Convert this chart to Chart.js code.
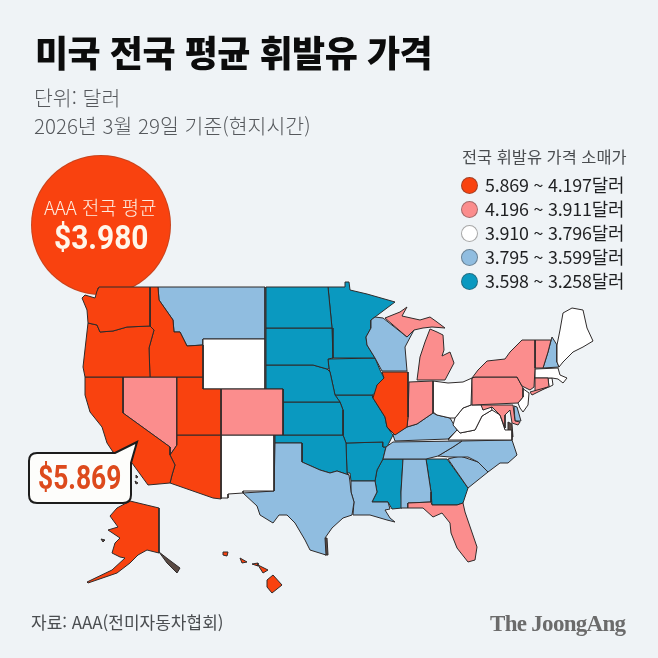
<!DOCTYPE html>
<html lang="ko">
<head>
<meta charset="utf-8">
<title>미국 전국 평균 휘발유 가격</title>
<script src="https://cdn.jsdelivr.net/npm/chart.js@4"></script>
<style>
  html, body { margin: 0; padding: 0; background: #eff3f6; }
  #page { position: relative; width: 658px; height: 658px; overflow: hidden; font-family: "Noto Sans CJK KR", sans-serif; }
  #map { position: absolute; left: 0; top: 0; }
  .txt { position: absolute; white-space: nowrap; line-height: 1; }
  .num { font-family: Roboto, sans-serif; font-weight: 700; transform-origin: left center; }
  #bubble { position: absolute; left: 32px; top: 156px; width: 138px; height: 138px; border-radius: 50%; background: #f9420f; box-shadow: 0 0 0 1px #c9431c; }
  #callout { position: absolute; left: 0; top: 0; }
  .dot { position: absolute; width: 15px; height: 15px; border-radius: 50%; border: 1px solid rgba(60, 60, 60, .45); }
</style>
</head>
<body>
<div id="page">
  <div id="bubble"></div>
  <canvas id="map" width="658" height="658"></canvas>
  <svg id="callout" width="658" height="658"><path d="M37 453 H115 L137 442 L131 463 V495 Q131 503 123 503 H37 Q29 503 29 495 V461 Q29 453 37 453 Z" fill="#fdfdfb" stroke="#1c1c1c" stroke-width="2"/></svg>
  <div class="txt" style="left:35px;top:33px;font-size:36px;font-weight:900;color:#0c0c0c;letter-spacing:-.5px">미국 전국 평균 휘발유 가격</div>
  <div class="txt" style="left:34px;top:87px;font-size:20.5px;font-weight:300;color:#55585c">단위: 달러</div>
  <div class="txt" style="left:34px;top:115px;font-size:20.5px;font-weight:300;color:#55585c">2026년 3월 29일 기준(현지시간)</div>
  <div class="txt" style="left:44px;top:198px;font-size:18.8px;font-weight:300;color:#fdeee2">AAA 전국 평균</div>
  <div class="txt num" style="left:54px;top:220px;font-size:34px;color:#fff6ea;transform:scaleX(.88)">$3.980</div>
  <div class="txt num" style="left:38px;top:461px;font-size:33px;color:#dd4a1c;transform:scaleX(.8)">$5.869</div>
  <div class="txt" style="left:31px;top:613px;font-size:17px;font-weight:400;color:#4a4d50">자료: AAA(전미자동차협회)</div>
  <div class="txt" style="left:490px;top:612px;font-size:23px;font-weight:700;color:#6b6b6b;font-family:'Liberation Serif',serif;letter-spacing:-.7px">The JoongAng</div>
  <div class="txt" style="left:462px;top:148px;font-size:16.4px;font-weight:400;color:#4a4d50">전국 휘발유 가격 소매가</div>
  <div id="legend"></div>
</div>
<script>
// price bins, from the legend
const legendLabels = ['5.869 ~ 4.197달러', '4.196 ~ 3.911달러', '3.910 ~ 3.796달러', '3.795 ~ 3.599달러', '3.598 ~ 3.258달러'];
const binColors = ['#f9420f', '#fb8d8d', '#ffffff', '#90bde0', '#0a99c0'];
const bin1 = ['WA', 'OR', 'CA', 'ID', 'UT', 'AZ', 'IL', 'AK', 'HI1', 'HI2', 'HI3', 'HI4', 'HI5'];
const bin2 = ['NV', 'CO', 'MI1', 'MI2', 'IN', 'NY', 'LI', 'PA', 'MD', 'VT', 'CT', 'FL'];
const bin3 = ['WY', 'NM', 'OH', 'WV', 'VA', 'NJ', 'MA', 'RI', 'ME'];
const bin4 = ['MT', 'TX', 'LA', 'WI', 'KY', 'TN', 'NC', 'SC', 'AL', 'NH', 'DE'];
const bin5 = ['ND', 'SD', 'NE', 'KS', 'OK', 'MN', 'IA', 'MO', 'AR', 'MS', 'GA'];

// state outlines in map units
const WA = [[99,287],[150,287],[150,326],[127,327],[113,331],[100,332],[97,325],[88,323],[87,310],[82,298],[85,295],[95,298],[97,291]];
const OR = [[88,323],[97,325],[100,332],[113,331],[127,327],[150,326],[154,330],[149,348],[150,377],[85,377],[83,367]];
const ID = [[150,287],[158,287],[159,300],[173,320],[174,332],[180,332],[187,346],[203,345],[203,377],[150,377],[149,348],[154,330],[150,326]];
const MT = [[158,287],[265,287],[265,339],[203,339],[203,345],[187,346],[180,332],[174,332],[173,320],[159,300]];
const WY = [[203,339],[265,339],[265,389],[203,389]];
const CA = [[85,377],[123,377],[123,413],[170,447],[170,455],[175,465],[172,475],[170,483],[148,485],[132,463],[113,452],[107,443],[102,427],[90,412],[85,395]];
const NV = [[123,377],[177,377],[177,445],[170,455],[170,447],[123,413]];
const UT = [[177,377],[203,377],[203,389],[221,389],[221,435],[177,435]];
const AZ = [[177,435],[221,435],[221,499],[213,498],[170,483],[172,475],[175,465],[170,455],[177,445]];
const CO = [[221,389],[283,389],[283,435],[221,435]];
const NM = [[221,435],[274,435],[274,491],[243,491],[243,493],[228,494],[228,498],[221,498]];
const TX = [[275,443],[302,443],[302,462],[320,470],[330,473],[337,471],[349,475],[350,482],[351,492],[354,502],[352,515],[343,518],[332,528],[325,538],[326,555],[310,550],[305,540],[295,523],[287,515],[279,515],[273,523],[260,515],[257,506],[243,493],[274,491]];
const OK = [[275,435],[343,435],[346,443],[347,473],[349,475],[337,471],[330,473],[320,470],[302,462],[302,443],[275,443]];
const KS = [[283,402],[340,402],[343,410],[343,435],[283,435]];
const NE = [[266,365],[313,365],[327,369],[330,372],[335,395],[340,402],[283,402],[283,389],[266,389]];
const SD = [[266,328],[332,328],[333,358],[328,359],[329,369],[327,369],[313,365],[266,365]];
const ND = [[266,287],[328,287],[332,328],[266,328]];
const MN = [[328,287],[345,287],[345,282],[349,282],[350,290],[367,294],[395,302],[375,317],[371,320],[371,328],[366,337],[367,345],[375,358],[333,358],[332,328]];
const IA = [[328,359],[375,358],[380,370],[384,378],[377,385],[378,392],[372,395],[335,395],[330,372],[329,369]];
const MO = [[335,395],[372,395],[373,398],[385,417],[387,427],[393,435],[387,447],[383,447],[383,442],[346,443],[343,435],[343,410],[340,402]];
const AR = [[346,443],[383,442],[383,447],[386,447],[383,459],[377,470],[375,481],[351,481],[350,473],[347,473]];
const LA = [[351,481],[375,481],[377,492],[372,502],[388,502],[390,509],[385,510],[390,518],[395,522],[387,520],[370,515],[353,515],[354,502],[351,492]];
const MS = [[383,459],[403,459],[401,492],[402,508],[392,509],[388,502],[372,502],[377,492],[375,481],[377,470]];
const TN = [[393,442],[462,441],[453,447],[438,456],[426,459],[383,459],[386,447]];
const KY = [[393,435],[407,427],[417,424],[433,413],[437,415],[450,418],[457,430],[448,439],[395,441]];
const IL = [[382,372],[408,372],[408,417],[407,427],[395,435],[387,427],[385,417],[373,398],[377,385],[384,378]];
const IN = [[409,382],[433,381],[433,413],[417,424],[407,427],[408,417]];
const WI = [[371,320],[375,317],[383,318],[407,337],[414,330],[405,347],[407,371],[382,371],[375,358],[367,345],[366,337],[371,328]];
const MI1 = [[385,318],[400,312],[407,307],[402,316],[420,320],[430,317],[437,322],[445,328],[432,327],[423,328],[414,330],[407,337]];
const MI2 = [[417,380],[420,357],[425,342],[430,329],[437,332],[443,335],[444,350],[442,356],[450,352],[454,363],[445,380]];
const OH = [[433,381],[448,383],[463,382],[472,378],[471,405],[463,408],[455,418],[450,418],[437,415],[433,412]];
const WV = [[471,405],[482,405],[483,410],[491,405],[492,410],[482,416],[475,430],[460,433],[453,425],[455,418],[463,408]];
const VA = [[448,440],[457,430],[460,433],[475,430],[482,416],[492,410],[500,415],[505,430],[512,430],[512,440]];
const MD = [[481,405],[513,405],[515,421],[520,422],[518,425],[512,423],[510,410],[505,415],[505,428],[500,415],[492,407],[483,410]];
const DE = [[514,406],[517,407],[521,421],[515,421]];
const PA = [[472,378],[475,377],[517,377],[523,388],[523,397],[518,403],[472,405]];
const NJ = [[522,388],[529,393],[528,405],[523,412],[520,408],[518,403],[523,397]];
const NY = [[472,378],[478,370],[487,361],[505,359],[510,352],[522,340],[535,340],[535,368],[534,387],[530,390],[522,386],[517,377],[475,377]];
const LI = [[530,392],[548,387],[532,395]];
const VT = [[535,340],[551,340],[548,352],[543,368],[535,368]];
const NH = [[552,337],[557,345],[557,362],[559,367],[543,368],[548,352]];
const ME = [[557,345],[560,330],[563,313],[572,308],[583,310],[587,328],[593,341],[583,347],[573,352],[563,362],[559,367],[557,362]];
const MA = [[535,369],[558,368],[560,375],[567,378],[563,383],[558,379],[552,378],[535,378]];
const CT = [[535,378],[548,378],[549,387],[535,392]];
const RI = [[548,378],[552,378],[553,385],[549,387]];
const NC = [[462,441],[512,440],[517,455],[508,463],[500,463],[488,472],[478,462],[468,457],[450,457],[438,456],[453,447]];
const SC = [[448,459],[460,456],[478,462],[488,472],[468,488]];
const GA = [[426,459],[447,459],[468,488],[463,503],[457,505],[432,505],[431,492]];
const AL = [[403,459],[426,459],[431,492],[431,502],[408,503],[408,508],[402,508],[401,492]];
const FL = [[408,503],[431,502],[432,505],[457,505],[463,503],[465,512],[477,547],[475,560],[468,562],[457,548],[451,533],[450,523],[442,513],[433,517],[423,508],[408,508]];
const AK = [[130,501],[159,508],[159,553],[147,550],[138,555],[130,563],[117,573],[88,583],[87,582],[112,570],[125,558],[120,557],[112,553],[115,543],[120,538],[108,530],[118,527],[110,516],[117,508]];
const HI1 = [[223,552],[228,552],[227,556],[223,555]];
const HI2 = [[240,558],[247,562],[242,563]];
const HI3 = [[252,564],[258,563],[258,566]];
const HI4 = [[258,565],[268,570],[263,573]];
const HI5 = [[267,580],[273,575],[282,585],[272,593],[267,587]];

// dark water-edge bits: Puget Sound, Alaska panhandle, Chesapeake, Texas coast, islands
const darkBits = [
  [[98,288],[103,290],[103,302],[99,312],[96,311],[97,300]],
  [[159,552],[168,559],[180,568],[177,573],[167,563]],
  [[508,422],[512,424],[513,437],[508,436]],
  [[324,538],[327,538],[328,555],[325,555]],
  [[101,539],[105,540],[103,542]],
  [[136,475],[138,477],[136,478]],
  [[135,481],[138,483],[136,484]]
];

const stateShapes = { WA, OR, ID, MT, WY, CA, NV, UT, AZ, CO, NM, TX, OK, KS, NE, SD, ND, MN, IA, MO, AR, LA, MS, TN, KY, IL, IN, WI, MI1, MI2, OH, WV, VA, MD, DE, PA, NJ, NY, LI, VT, NH, ME, MA, CT, RI, NC, SC, GA, AL, FL, AK, HI1, HI2, HI3, HI4, HI5 };
const bins = [bin1, bin2, bin3, bin4, bin5];

function shape(points, color, label) {
  const closed = points.concat([points[0]]);
  return {
    label: label,
    data: closed.map(p => ({ x: p[0], y: p[1] })),
    showLine: true,
    fill: 'shape',
    backgroundColor: color,
    borderColor: '#2e2a2a',
    borderWidth: 1,
    tension: 0,
    pointRadius: 0,
    clip: false
  };
}

var datasets = [];
bins.forEach((names, i) => {
  for (var name of names) {
    datasets.push(shape(stateShapes[name], binColors[i], name));
  }
});
for (var bit of darkBits) {
  datasets.push(shape(bit, '#5a4a44', 'detail'));
}

new Chart(document.getElementById('map'), {
  type: 'scatter',
  data: { datasets: datasets },
  options: {
    responsive: false,
    animation: false,
    layout: { padding: 0 },
    plugins: { legend: { display: false }, tooltip: { enabled: false }, title: { display: false } },
    scales: {
      x: { type: 'linear', min: 0, max: 658, display: false },
      y: { type: 'linear', min: 0, max: 658, reverse: true, display: false }
    }
  }
});

// legend rows
const legend = document.getElementById('legend');
const legendRows = [185, 209, 233, 257, 281];
legendLabels.forEach((text, i) => {
  const dot = document.createElement('div');
  dot.className = 'dot';
  dot.style.cssText = 'left:461px;top:' + (legendRows[i] - 8) + 'px;background:' + binColors[i];
  legend.appendChild(dot);
  const row = document.createElement('div');
  row.className = 'txt';
  row.textContent = text;
  row.style.cssText = 'left:485px;top:' + (legendRows[i] - 9) + 'px;font-size:17.9px;color:#1f2022;letter-spacing:-.2px';
  legend.appendChild(row);
});
</script>
</body>
</html>
